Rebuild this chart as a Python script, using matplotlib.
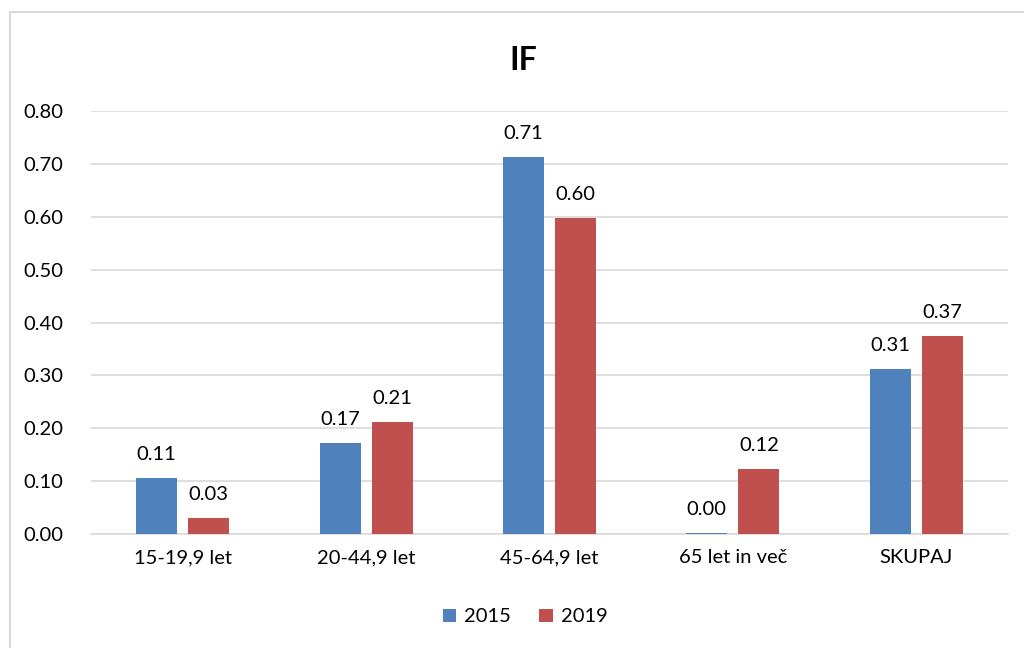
import matplotlib
matplotlib.use("Agg")
import matplotlib.pyplot as plt
import numpy as np
from matplotlib.patches import Rectangle

categories = ["15-19,9 let", "20-44,9 let", "45-64,9 let", "65 let in več", "SKUPAJ"]
vals_2015 = [0.106, 0.172, 0.713, 0.002, 0.312]
vals_2019 = [0.030, 0.212, 0.597, 0.123, 0.374]
labels_2015 = ["0.11", "0.17", "0.71", "0.00", "0.31"]
labels_2019 = ["0.03", "0.21", "0.60", "0.12", "0.37"]
yticks = [0.0, 0.1, 0.2, 0.3, 0.4, 0.5, 0.6, 0.7, 0.8]

blue = "#4F81BD"
red = "#C0504D"
grid = "#D9D9D9"
fs = 14.5

plt.rcParams["font.family"] = ["Lato", "DejaVu Sans"]

fig = plt.figure(figsize=(10.24, 6.48), dpi=100)
ax = fig.add_axes([91 / 1024, 1 - 534 / 648, (1008 - 91) / 1024, (534 - 111) / 648])

x = np.arange(len(categories))
w = 0.224
off = 0.142
b1 = ax.bar(x - off, vals_2015, w, color=blue, label="2015", zorder=3)
b2 = ax.bar(x + off, vals_2019, w, color=red, label="2019", zorder=3)

for rects, labs in ((b1, labels_2015), (b2, labels_2019)):
    for r, t in zip(rects, labs):
        ax.annotate(t, (r.get_x() + r.get_width() / 2, r.get_height()),
                    xytext=(0, 11), textcoords="offset points",
                    ha="center", va="bottom", fontsize=fs, color="#000000")

ax.set_xlim(-0.5, len(categories) - 0.5)
ax.set_ylim(0, 0.8)
ax.set_yticks(yticks)
ax.set_yticklabels(["%.2f" % v for v in yticks])
ax.set_xticks(x)
ax.set_xticklabels(categories)
ax.tick_params(axis="both", length=0, labelsize=fs, colors="#000000")
ax.tick_params(axis="y", pad=20)
ax.tick_params(axis="x", pad=11)
ax.grid(axis="y", color=grid, linewidth=1.2, zorder=0)
for s in ["top", "right", "left"]:
    ax.spines[s].set_visible(False)
ax.spines["bottom"].set_color(grid)
ax.spines["bottom"].set_linewidth(1.2)

fig.text(0.511, 1 - 60 / 648, "IF", ha="center", va="center", fontsize=23, fontweight="bold")

fig.legend(handles=[b1, b2], loc="center", bbox_to_anchor=(0.513, 1 - 617 / 648),
           ncol=2, frameon=False, fontsize=fs, handlelength=0.65, handleheight=0.65,
           columnspacing=1.4, handletextpad=0.4)

fig.patches.append(Rectangle((10 / 1024, -0.1), 1.2, 1 - 12 / 648 + 0.1,
                             transform=fig.transFigure, fill=False,
                             edgecolor=grid, linewidth=1.5))

fig.savefig("out.png", dpi=100, facecolor="white")
